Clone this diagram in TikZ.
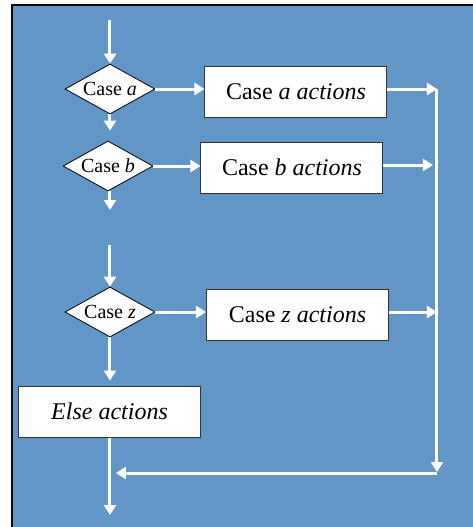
\documentclass[tikz,border=0pt]{standalone}
\usepackage{fontspec}
\setmainfont{Liberation Serif}
\usepackage{xcolor}
\usetikzlibrary{arrows.meta, positioning, calc, shapes.geometric}

\definecolor{panelblue}{RGB}{97,150,199}

\begin{document}
\begin{tikzpicture}[
    x=0.5pt, y=-0.5pt,
    test/.style={diamond, draw=black, fill=white, aspect=1.8, inner sep=0pt,
                 minimum width=45pt, minimum height=25pt, font=\fontsize{10}{12}\selectfont},
    act/.style={rectangle, draw=black!80, fill=white, line width=0.5pt,
                minimum width=91pt, minimum height=25.5pt, font=\fontsize{12}{14}\selectfont},
    flow/.style={draw=white, line width=1.5pt, -{Triangle[length=5pt, width=6pt]}},
    wire/.style={draw=white, line width=1.5pt},
]
\useasboundingbox (0,0) rectangle (473,527);
\fill[panelblue] (12,5) rectangle (473,527);
\draw[black, line width=0.8pt] (12,527) -- (12,5) -- (473,5);

\node[test] (casea) at (110,89) {Case \textit{a}};
\node[test] (caseb) at (108,166) {Case \textit{b}};
\node[test] (casez) at (110,312) {Case \textit{z}};

\node[act] (acta) at (296,91.5) {Case \textit{a actions}};
\node[act] (actb) at (292,167.5) {Case \textit{b actions}};
\node[act] (actz) at (297.5,314.5) {Case \textit{z actions}};
\node[act] (actelse) at (109.5,411.5) {\textit{Else actions}};

\coordinate (entry) at (110,20);
\coordinate (bout) at (110,210);
\coordinate (zin) at (110,245);
\coordinate (exit) at (110,515);
\coordinate (joina) at (437,89);
\coordinate (joinb) at (433,165);
\coordinate (joinz) at (437,312);
\coordinate (corner) at (437,473);
\coordinate (merge) at (116,473);

\draw[flow] (entry) -- (casea.north);
\draw[flow, shorten >=5pt] (casea.south) -- (casea.south |- caseb.north);
\draw[flow] (caseb.south -| bout) -- (bout);
\draw[flow] (zin) -- (casez.north);
\draw[flow, shorten >=2.5pt] (casez.south) -- (casez.south |- actelse.north);
\draw[flow] (actelse.south -| exit) -- (exit);

\draw[flow] (casea.east) -- (casea.east -| acta.west);
\draw[flow] (caseb.east) -- (caseb.east -| actb.west);
\draw[flow] (casez.east) -- (casez.east -| actz.west);

\draw[flow] (acta.east |- joina) -- (joina);
\draw[flow] (actb.east |- joinb) -- (joinb);
\draw[flow] (actz.east |- joinz) -- (joinz);

\draw[flow] (joina) -- ($(corner)+(0,-1)$);
\draw[flow] (corner) -- (merge);

\end{tikzpicture}
\end{document}
